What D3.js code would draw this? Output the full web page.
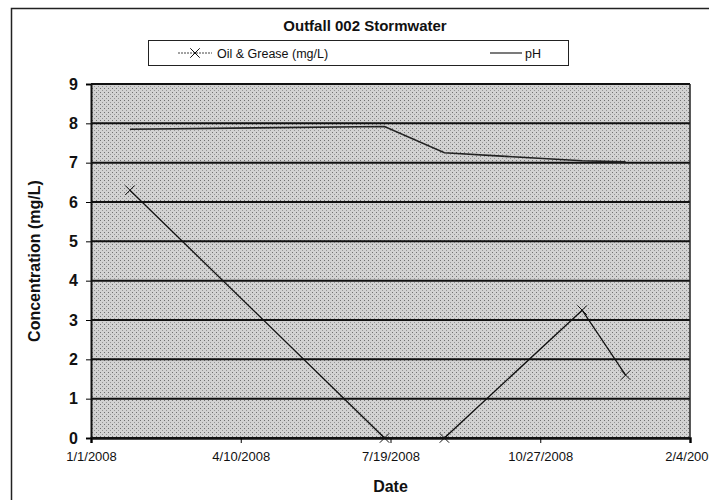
<!DOCTYPE html>
<html>
<head>
<meta charset="utf-8">
<script src="https://cdn.jsdelivr.net/npm/d3@7"></script>
<style>
  body { margin: 0; background: #fff; }
  svg { font-family: "Liberation Sans", Arial, sans-serif; }
</style>
</head>
<body>
<div id="chart"></div>
<script>
// sample dates and values
const sampleDates = ["2008-01-27", "2008-07-15", "2008-08-24", "2008-11-24", "2008-12-23"];
const oilGrease = [6.3, 0, 0, 3.25, 1.6];
const pH = [7.85, 7.92, 7.25, 7.05, 7.02];
const xTicks = ["2008-01-01", "2008-04-10", "2008-07-19", "2008-10-27", "2009-02-04"];
const yTicks = [0, 1, 2, 3, 4, 5, 6, 7, 8, 9];

const width = 709, height = 500;
const margin = { top: 84, right: 19, bottom: 62, left: 91 };

const parse = d3.utcParse("%Y-%m-%d");
const fmt = d => (d.getUTCMonth() + 1) + "/" + d.getUTCDate() + "/" + d.getUTCFullYear();

const svg = d3.select("#chart").append("svg")
    .attr("width", width)
    .attr("height", height);

// outer chart frame
svg.append("rect")
    .attr("x", 11.5).attr("y", 8.5)
    .attr("width", 720).attr("height", 520)
    .attr("fill", "none").attr("stroke", "#222").attr("stroke-width", 1.5);

let x = d3.scaleUtc()
    .domain([parse(xTicks[0]), parse(xTicks[xTicks.length - 1])])
    .range([margin.left, width - margin.right]);

let y = d3.scaleLinear()
    .domain([0, 9])
    .range([height - margin.bottom, margin.top]);

// stipple pattern for plot area
const defs = svg.append("defs");
const pat = defs.append("pattern")
    .attr("id", "stip").attr("width", 4).attr("height", 4)
    .attr("patternUnits", "userSpaceOnUse");
pat.append("rect").attr("width", 4).attr("height", 4).attr("fill", "#d2d2d2");
pat.append("rect").attr("x", 0).attr("y", 0).attr("width", 1).attr("height", 1).attr("fill", "#707070");
pat.append("rect").attr("x", 2).attr("y", 2).attr("width", 1).attr("height", 1).attr("fill", "#959595");

svg.append("rect")
    .attr("x", margin.left).attr("y", margin.top)
    .attr("width", width - margin.left - margin.right)
    .attr("height", height - margin.top - margin.bottom)
    .attr("fill", "url(#stip)");

// gridlines
svg.append("g")
    .selectAll("line")
    .data(yTicks)
    .join("line")
    .attr("x1", margin.left).attr("x2", width - margin.right)
    .attr("y1", d => y(d)).attr("y2", d => y(d))
    .attr("stroke", "#111").attr("stroke-width", 2);

// right border
svg.append("line")
    .attr("x1", width - margin.right).attr("x2", width - margin.right)
    .attr("y1", margin.top).attr("y2", height - margin.bottom)
    .attr("stroke", "#222").attr("stroke-width", 1.5);

// y axis
const yAxis = svg.append("g")
    .attr("transform", `translate(${margin.left},0)`)
    .call(d3.axisLeft(y).tickValues(yTicks).tickSize(5).tickPadding(8));
yAxis.select(".domain").attr("stroke", "#111").attr("stroke-width", 2);
yAxis.selectAll("text").attr("font-size", 16).attr("font-weight", "bold").attr("fill", "#111");

// x axis
const xAxis = svg.append("g")
    .attr("transform", `translate(0,${height - margin.bottom})`)
    .call(d3.axisBottom(x).tickValues(xTicks.map(parse)).tickFormat(fmt).tickSize(5).tickPadding(9));
xAxis.select(".domain").attr("stroke", "#111").attr("stroke-width", 2.5);
xAxis.selectAll("text").attr("font-size", 13).attr("fill", "#111");

// pH line
const rows = sampleDates.map((d, i) => ({ date: parse(d), og: oilGrease[i], ph: pH[i] }));

svg.append("path")
    .datum(rows)
    .attr("fill", "none").attr("stroke", "#222").attr("stroke-width", 1.6)
    .attr("d", d3.line().x(d => x(d.date)).y(d => y(d.ph)));

// oil & grease line with x markers
svg.append("path")
    .datum(rows)
    .attr("fill", "none").attr("stroke", "#111").attr("stroke-width", 1.3)
    .attr("d", d3.line().x(d => x(d.date)).y(d => y(d.og)));

const cross = d3.symbol().type(d3.symbolX).size(60);
svg.append("g")
    .selectAll("path")
    .data(rows)
    .join("path")
    .attr("transform", d => `translate(${x(d.date)},${y(d.og)})`)
    .attr("d", cross)
    .attr("fill", "none").attr("stroke", "#111").attr("stroke-width", 1);

// title
svg.append("text")
    .attr("x", 365).attr("y", 31)
    .attr("text-anchor", "middle")
    .attr("font-size", 15).attr("font-weight", "bold").attr("fill", "#111")
    .text("Outfall 002 Stormwater");

// legend
const lg = svg.append("g");
lg.append("rect")
    .attr("x", 148.5).attr("y", 40.5).attr("width", 420).attr("height", 25)
    .attr("fill", "#fff").attr("stroke", "#222").attr("stroke-width", 1);
lg.append("line").attr("x1", 178).attr("x2", 212).attr("y1", 53).attr("y2", 53)
    .attr("stroke", "#444").attr("stroke-width", 1).attr("stroke-dasharray", "2,1");
lg.append("path").attr("transform", "translate(195,53)").attr("d", cross)
    .attr("fill", "none").attr("stroke", "#111");
lg.append("text").attr("x", 217).attr("y", 58)
    .attr("font-size", 12.5).attr("fill", "#111").text("Oil & Grease (mg/L)");
lg.append("line").attr("x1", 490).attr("x2", 522).attr("y1", 53).attr("y2", 53)
    .attr("stroke", "#333").attr("stroke-width", 1.3);
lg.append("text").attr("x", 525).attr("y", 58)
    .attr("font-size", 12.5).attr("fill", "#111").text("pH");

// axis titles
svg.append("text")
    .attr("transform", `translate(40,${(margin.top + height - margin.bottom) / 2}) rotate(-90)`)
    .attr("text-anchor", "middle")
    .attr("font-size", 16).attr("font-weight", "bold").attr("fill", "#111")
    .text("Concentration (mg/L)");

svg.append("text")
    .attr("x", (margin.left + width - margin.right) / 2).attr("y", 492)
    .attr("text-anchor", "middle")
    .attr("font-size", 16).attr("font-weight", "bold").attr("fill", "#111")
    .text("Date");
</script>
</body>
</html>
